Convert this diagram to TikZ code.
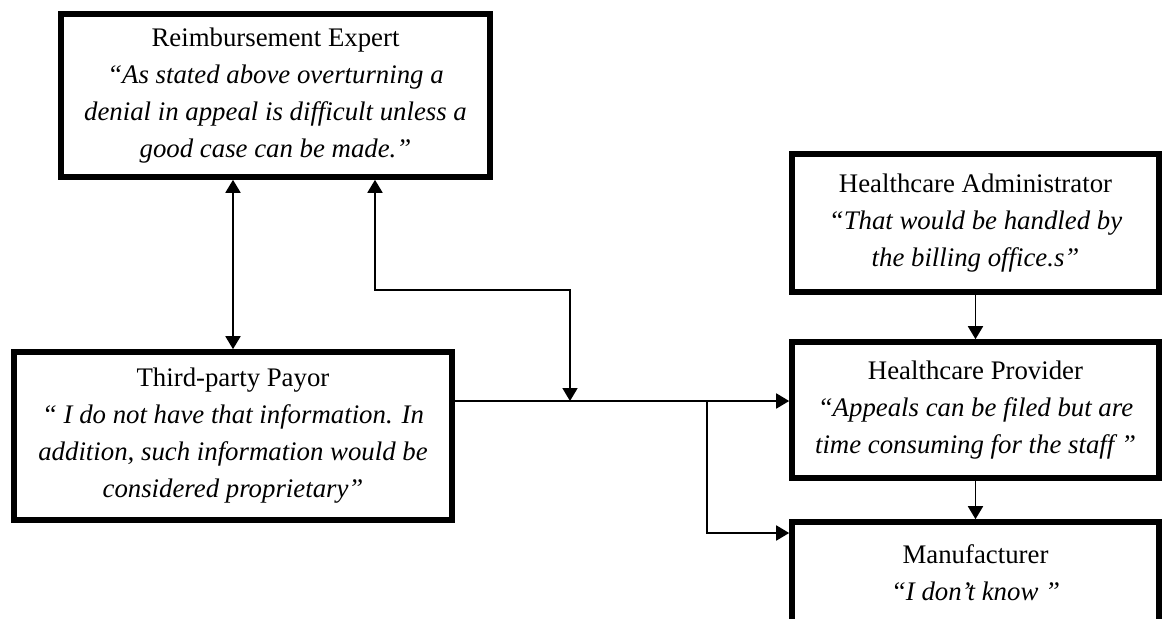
\documentclass[tikz,border=0pt]{standalone}
\usepackage{fontspec}
\setmainfont{Liberation Serif}
\usetikzlibrary{arrows.meta}
\begin{document}
\begin{tikzpicture}[x=0.5pt,y=-0.5pt,
  box/.style={draw, line width=2.8pt, align=center, inner sep=0pt,
    font=\fontsize{13.4pt}{18.5pt}\selectfont},
  link/.style={line width=0.9pt, -{Triangle[length=6.5pt,width=7.5pt]}},
  dlink/.style={line width=0.9pt, {Triangle[length=6.5pt,width=7.5pt]}-{Triangle[length=6.5pt,width=7.5pt]}}]
\useasboundingbox (0,0) rectangle (1164,618);

% stakeholder boxes
\node[box, minimum width=214.5pt, minimum height=81.5pt] (re) at (275.5,95.5)
  {Reimbursement Expert\\ \itshape “As stated above overturning a\\ \itshape denial in appeal is difficult unless a\\ \itshape good case can be made.”};
\node[box, minimum width=219pt, minimum height=84pt] (tp) at (233,436)
  {Third-party Payor\\ \itshape “ I do not have that information. In\\ \itshape addition, such information would be\\ \itshape considered proprietary”};
\node[box, minimum width=183.5pt, minimum height=69pt] (ha) at (975.5,223)
  {Healthcare Administrator\\ \itshape “That would be handled by\\ \itshape the billing office.s”};
\node[box, minimum width=183.5pt, minimum height=68pt] (hp) at (975.5,410)
  {Healthcare Provider\\ \itshape “Appeals can be filed but are\\ \itshape time consuming for the staff ”};
\node[box, minimum width=183.5pt, minimum height=51pt] (mf) at (975.5,573)
  {Manufacturer\\ \itshape “I don’t know ”};

% junction points on the connectors
\coordinate (j) at (570,401);
\coordinate (k) at (375,290);
\coordinate (b) at (707,401);
\coordinate (m) at (707,533);

% connectors
\draw[dlink] (re.south -| tp.north) -- (tp.north);
\draw[dlink] (j) |- (k) -- (k |- re.south);
\draw[link] (tp.east |- j) -- (hp.west |- j);
\draw[link] (b) -- (m) -- (mf.west |- m);
\draw[link] (ha.south) -- (hp.north);
\draw[link] (hp.south) -- (mf.north);
\end{tikzpicture}
\end{document}
